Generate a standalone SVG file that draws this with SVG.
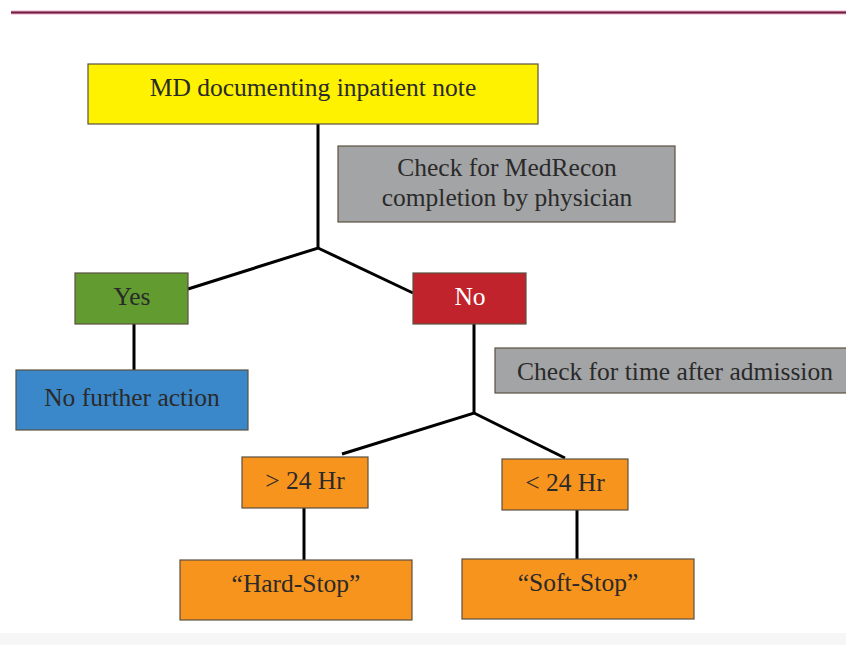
<svg xmlns="http://www.w3.org/2000/svg" width="846" height="645" viewBox="0 0 846 645">
<style>
.box{stroke:#5a5040;stroke-width:1.2}
.t{font-family:"Liberation Serif","Times New Roman",serif;font-size:25.5px;text-anchor:middle;dominant-baseline:central;fill:#2a2a2a}
.w{fill:#ffffff}
.ln{stroke:#000;stroke-width:3;fill:none}
</style>
<rect width="846" height="645" fill="#ffffff"/>
<rect x="0" y="633" width="846" height="12" fill="#f6f6f6"/>
<line x1="11" y1="12.5" x2="846" y2="12.5" stroke="#f0a8c8" stroke-width="4"/>
<line x1="11" y1="12.5" x2="846" y2="12.5" stroke="#6a1e40" stroke-width="2"/>
<g id="connectors">
<polyline class="ln" points="318,124 318,248"/>
<polyline class="ln" points="188,289 318,248 413,293"/>
<line class="ln" x1="134" y1="324" x2="134" y2="370"/>
<line class="ln" x1="474" y1="324" x2="474" y2="413"/>
<polyline class="ln" points="342,454 474,413 565,458"/>
<line class="ln" x1="304" y1="508" x2="304" y2="560"/>
<line class="ln" x1="577" y1="510" x2="577" y2="560"/>
</g>
<g id="start"><rect class="box" x="88" y="64" width="450" height="60" fill="#fef200"/><text class="t" x="313" y="87">MD documenting inpatient note</text></g>
<g id="check1"><rect class="box" x="338" y="146" width="337" height="76" fill="#a3a4a6"/><text class="t" x="507" y="167">Check for MedRecon</text><text class="t" x="507" y="197">completion by physician</text></g>
<g id="yes"><rect class="box" x="75" y="273" width="113" height="51" fill="#629b30"/><text class="t" x="132" y="296">Yes</text></g>
<g id="no"><rect class="box" x="413" y="273" width="113" height="51" fill="#c1232c"/><text class="t w" x="470" y="296">No</text></g>
<g id="nofurther"><rect class="box" x="16" y="370" width="232" height="60" fill="#3a88c9"/><text class="t" x="132" y="397">No further action</text></g>
<g id="check2"><rect class="box" x="495" y="348" width="355" height="45" fill="#a3a4a6"/><text class="t" x="675" y="371">Check for time after admission</text></g>
<g id="gt24"><rect class="box" x="242" y="457" width="126" height="51" fill="#f7941e"/><text class="t" x="305" y="480">&gt; 24 Hr</text></g>
<g id="lt24"><rect class="box" x="502" y="459" width="126" height="51" fill="#f7941e"/><text class="t" x="565" y="482">&lt; 24 Hr</text></g>
<g id="hard"><rect class="box" x="180" y="560" width="232" height="60" fill="#f7941e"/><text class="t" x="296" y="583">“Hard-Stop”</text></g>
<g id="soft"><rect class="box" x="462" y="559" width="232" height="60" fill="#f7941e"/><text class="t" x="578" y="582">“Soft-Stop”</text></g>
</svg>
